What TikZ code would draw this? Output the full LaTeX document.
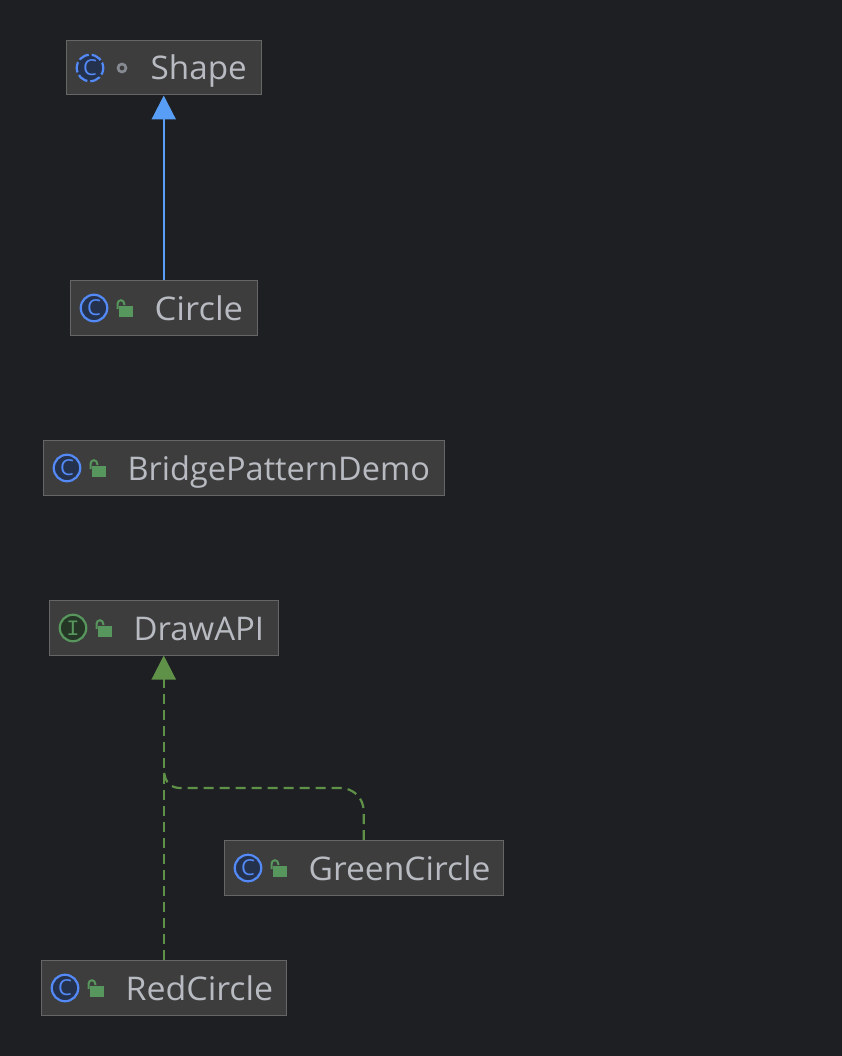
\documentclass[tikz,border=0pt]{standalone}
\usepackage{graphicx}
\usepackage{fontspec}
\setmainfont{Open Sans}
\newfontfamily\monoicon{Liberation Mono}
\usetikzlibrary{arrows.meta}
\definecolor{bgc}{HTML}{1E1F22}
\definecolor{boxfill}{HTML}{3D3D3D}
\definecolor{boxline}{HTML}{666666}
\definecolor{txt}{HTML}{B8BBC2}
\definecolor{bluea}{HTML}{589DF6}
\definecolor{blueb}{HTML}{548AF7}
\definecolor{bluef}{HTML}{25324D}
\definecolor{greena}{HTML}{5F9148}
\definecolor{greenb}{HTML}{57965C}
\definecolor{greenf}{HTML}{253627}
\definecolor{greyr}{HTML}{868A91}
\tikzset{
  x=1pt,y=-1pt,
  umlbox/.style={draw=boxline,fill=boxfill,line width=1pt,minimum height=54.5pt,inner sep=0pt,outer sep=0.5pt},
  umltext/.style={anchor=base west,inner sep=0pt,text=txt,font=\fontsize{32.6}{38}\selectfont},
  classicon/.style={circle,draw=blueb,fill=bluef,line width=2.2pt,minimum size=26.5pt,inner sep=0pt,text=blueb,font=\fontsize{22}{22}\selectfont},
  abstracticon/.style={classicon,dash pattern=on 10.5pt off 3pt,dash phase=5pt},
  ifaceicon/.style={classicon,draw=greenb,fill=greenf,text=greenb,font=\monoicon\fontsize{22}{22}\selectfont},
  ringicon/.style={circle,draw=greyr,line width=2.6pt,minimum size=8pt,inner sep=0pt},
  extendsline/.style={draw=bluea,line width=2.2pt,xshift=0.4pt,-{Triangle[length=24pt,width=24pt,fill=bluea]}},
  implline/.style={draw=greena,line width=2.2pt,xshift=0.4pt,dash pattern=on 10pt off 6pt,-{Triangle[length=24pt,width=24pt,fill=greena]}},
  impltail/.style={draw=greena,line width=2.2pt,xshift=0.4pt,dash pattern=on 10pt off 6pt},
}
\newcommand\umlframe[6]{%
  \node[umlbox,minimum width={#3-#2+0.5}] (#1) at ({(#2+#3)/2-0.25},{#4-0.25}) {};
  \node[#6] (#1icon) at ({#2+23},#4) {#5};
}
\newcommand\umllabel[5]{\node[umltext] (#1label) at ({#2+83.4},{#3+12}) {\scalebox{#5}[1]{#4}};}
\newcommand\umllock[3]{%
  \fill[greenb] ({#2+48},{#3-2}) rectangle ({#2+61.5},{#3+8.5});
  \draw[greenb,line width=2pt] ({#2+46.5},{#3+1}) -- ({#2+46.5},{#3-4}) arc[start angle=180,end angle=0,x radius=3.4pt,y radius=3.8pt] -- ({#2+53.3},{#3-3});
}
\begin{document}
\begin{tikzpicture}
\useasboundingbox[fill=bgc] (0,0) rectangle (842,1056);
\umlframe{shape}{67}{261}{68}{C}{abstracticon}
\umllabel{shape}{67}{68}{Shape}{1.02}
\node[ringicon] (shapering) at (122,68) {};
\umlframe{circ}{71}{257}{308}{C}{classicon}
\umllabel{circ}{71}{308}{Circle}{1.06}
\umllock{circ}{71}{308}
\umlframe{demo}{44}{444}{468}{C}{classicon}
\umllabel{demo}{44}{468}{BridgePatternDemo}{0.997}
\umllock{demo}{44}{468}
\umlframe{api}{50}{278}{628}{I}{ifaceicon}
\umllabel{api}{50}{628}{DrawAPI}{1.01}
\umllock{api}{50}{628}
\umlframe{green}{225}{503}{868}{C}{classicon}
\umllabel{green}{225}{868}{GreenCircle}{1.03}
\umllock{green}{225}{868}
\umlframe{red}{42}{286}{988}{C}{classicon}
\umllabel{red}{42}{988}{RedCircle}{1.04}
\umllock{red}{42}{988}
\draw[extendsline] (circ.north) -- (shape.south);
\draw[implline] (red.north) -- (api.south);
\coordinate (join) at (164,770);
\draw[impltail] (green.north) -- ++(0,-28) .. controls +(0,-14) and +(14,0) .. ++(-24,-24) -- (180,788) .. controls (172,788) and (164,784) .. (join);
\end{tikzpicture}
\end{document}
